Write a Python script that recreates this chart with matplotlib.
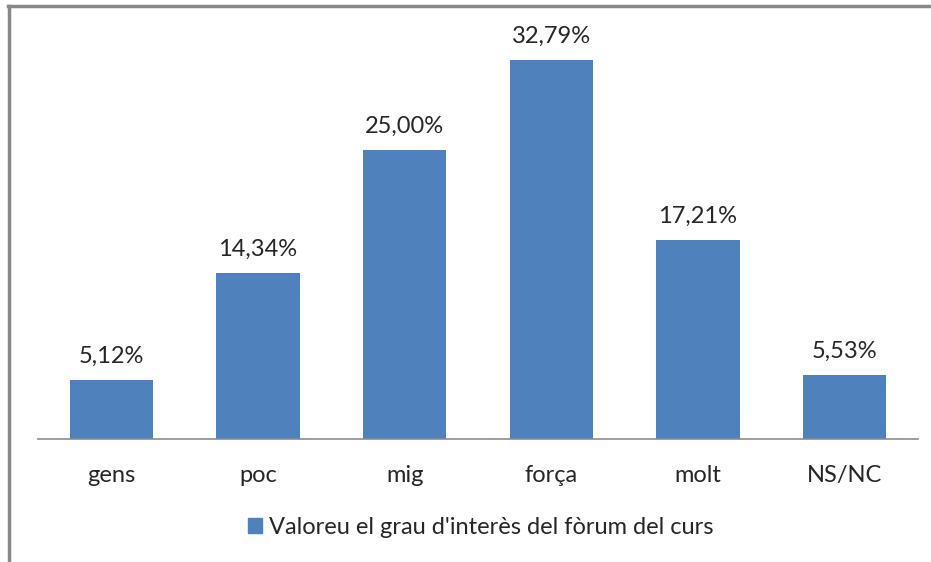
import matplotlib
matplotlib.use('Agg')
import matplotlib.pyplot as plt
from matplotlib.lines import Line2D

categories = ['gens', 'poc', 'mig', 'força', 'molt', 'NS/NC']
values = [5.12, 14.34, 25.00, 32.79, 17.21, 5.53]
series_name = "Valoreu el grau d'interès del fòrum del curs"

BAR_COLOR = '#4F81BD'
TEXT_COLOR = '#262626'

plt.rcParams['font.family'] = ['Lato', 'DejaVu Sans']

fig = plt.figure(figsize=(9.31, 5.62), dpi=100)
ax = fig.add_axes([38 / 931, 1 - 439 / 562, 880 / 931, 405 / 562])

x = range(len(categories))
bars = ax.bar(x, values, width=0.566, color=BAR_COLOR)

for b, v in zip(bars, values):
    lbl = f'{v:.2f}%'.replace('.', ',')
    ax.annotate(lbl, (b.get_x() + b.get_width() / 2, v),
                xytext=(0, 9.5), textcoords='offset points',
                ha='center', va='bottom', fontsize=17, color=TEXT_COLOR)

ax.set_xlim(-0.5, len(categories) - 0.5)
ax.set_ylim(0, 35)
ax.set_xticks(list(x))
ax.set_xticklabels(categories, fontsize=17, color=TEXT_COLOR)
ax.tick_params(axis='x', length=0, pad=19)
ax.set_yticks([])
for s in ['top', 'right', 'left']:
    ax.spines[s].set_visible(False)
ax.spines['bottom'].set_color('#8c8c8c')
ax.spines['bottom'].set_linewidth(1.2)

# legend
fig.legend(handles=[plt.Rectangle((0, 0), 1, 1, color=BAR_COLOR)],
           labels=[series_name], loc='center', bbox_to_anchor=(481 / 931, 1 - 527 / 562),
           frameon=False, fontsize=17, handlelength=0.6, handleheight=0.6,
           handletextpad=0.3, labelcolor=TEXT_COLOR)

# outer frame (top and left edges only visible)
fig.add_artist(Line2D([8 / 931, 1], [1 - 6 / 562, 1 - 6 / 562],
                      transform=fig.transFigure, color='#888888', linewidth=2.5))
fig.add_artist(Line2D([8.5 / 931, 8.5 / 931], [0, 1 - 6 / 562],
                      transform=fig.transFigure, color='#888888', linewidth=2.5))

fig.savefig('out.png', dpi=100)
